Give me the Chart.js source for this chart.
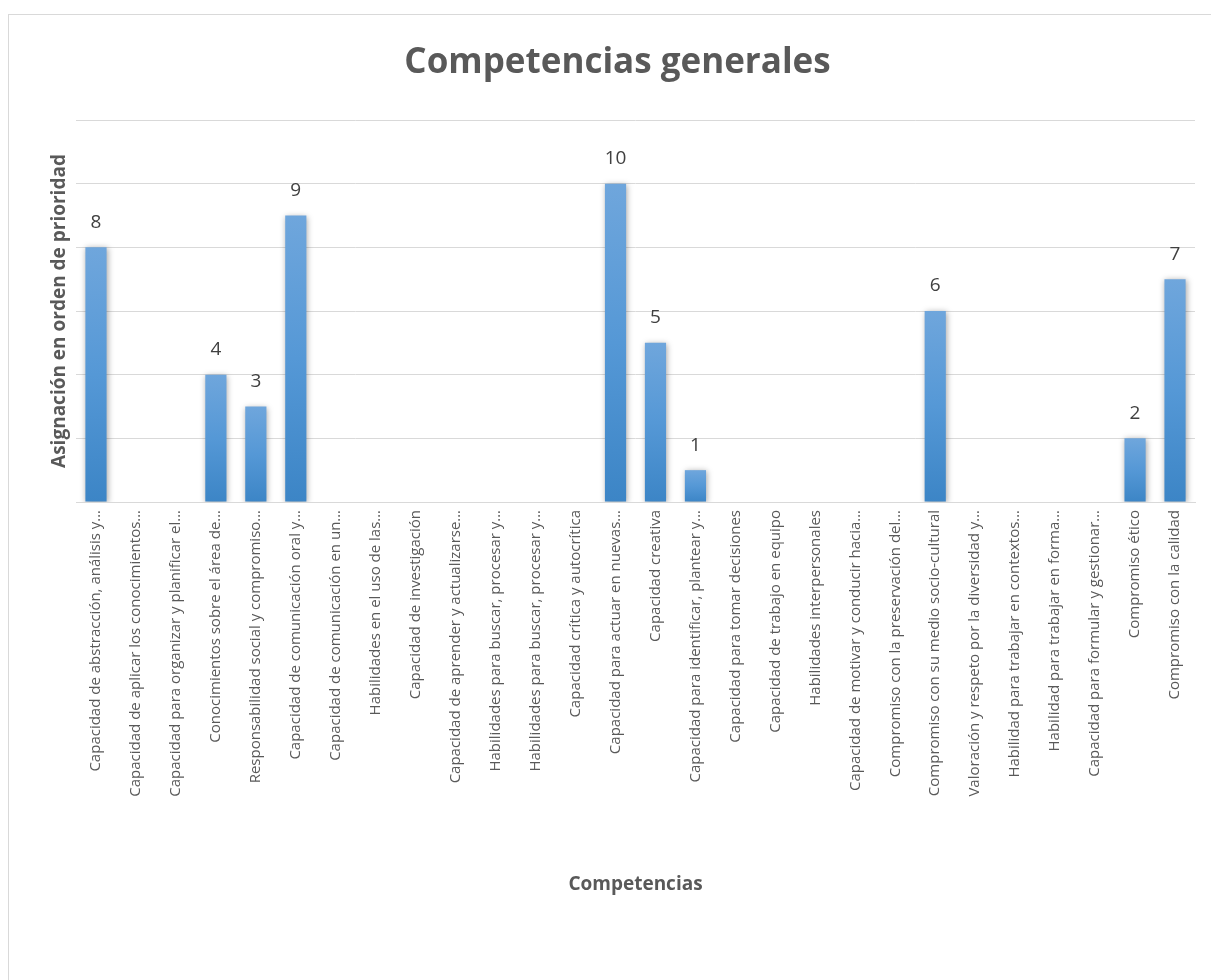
<!DOCTYPE html>
<html>
<head>
<meta charset="utf-8">
<title>Competencias generales</title>
<script src="https://cdn.jsdelivr.net/npm/chart.js@4.4.1/dist/chart.umd.min.js"></script>
<style>
    html, body { margin: 0; padding: 0; background: #ffffff; overflow: hidden; }
    #frame {
        position: absolute; left: 8px; top: 14px;
        width: 1300px; height: 1100px;
        border: 1px solid #d9d9d9;
    }
    #chart-container { position: absolute; left: 0; top: 0; width: 1211px; height: 980px; }
</style>
</head>
<body>
<div id="frame"></div>
<div id="chart-container"><canvas id="chart"></canvas></div>
<script>
// Category labels as they appear (truncated) on the axis
const competencias = [
    'Capacidad de abstracción, análisis y…',
    'Capacidad de aplicar los conocimientos…',
    'Capacidad para organizar y planificar el…',
    'Conocimientos sobre el área de…',
    'Responsabilidad social y compromiso…',
    'Capacidad de comunicación oral y…',
    'Capacidad de comunicación en un…',
    'Habilidades en el uso de las…',
    'Capacidad de investigación',
    'Capacidad de aprender y actualizarse…',
    'Habilidades para buscar, procesar y…',
    'Habilidades para buscar, procesar y…',
    'Capacidad crítica y autocrítica',
    'Capacidad para actuar en nuevas…',
    'Capacidad creativa',
    'Capacidad para identificar, plantear y…',
    'Capacidad para tomar decisiones',
    'Capacidad de trabajo en equipo',
    'Habilidades interpersonales',
    'Capacidad de motivar y conducir hacia…',
    'Compromiso con la preservación del…',
    'Compromiso con su medio socio-cultural',
    'Valoración y respeto por la diversidad y…',
    'Habilidad para trabajar en contextos…',
    'Habilidad para trabajar en forma…',
    'Capacidad para formular y gestionar…',
    'Compromiso ético',
    'Compromiso con la calidad'
];

// Priority assigned to each competence (blank = not ranked)
const prioridad = [8, null, null, 4, 3, 9, null, null, null, null, null, null, null,
    10, 5, 1, null, null, null, null, null, 6, null, null, null, null, 2, 7];

const yMax = 12;
const yStep = 2;

const textColor = '#595959';
const gridColor = '#d9d9d9';

Chart.defaults.font.family = '"Open Sans", sans-serif';

// Soft shadow behind bars + value labels above them
const barExtras = {
    id: 'barExtras',
    beforeDatasetsDraw(chart) {
        const ctx = chart.ctx;
        ctx.save();
        ctx.shadowColor = 'rgba(0, 0, 0, 0.35)';
        ctx.shadowBlur = 6;
        ctx.shadowOffsetX = 1;
        ctx.shadowOffsetY = 1;
    },
    afterDatasetsDraw(chart) {
        const ctx = chart.ctx;
        ctx.restore();
        const meta = chart.getDatasetMeta(0);
        ctx.save();
        ctx.font = '19px "Open Sans", sans-serif';
        ctx.fillStyle = '#404040';
        ctx.textAlign = 'center';
        ctx.textBaseline = 'middle';
        meta.data.forEach((bar, i) => {
            const v = prioridad[i];
            if (v === null || v === undefined) return;
            ctx.fillText(String(v), bar.x, bar.y - 25);
        });
        ctx.restore();
    }
};

function barGradient(context) {
    const chart = context.chart;
    const v = prioridad[context.dataIndex];
    const y = chart.scales.y;
    if (!y || v === null || v === undefined) return '#5b9bd5';
    const top = y.getPixelForValue(v);
    const bottom = y.getPixelForValue(0);
    if (!isFinite(top) || !isFinite(bottom) || top === bottom) return '#5b9bd5';
    const g = chart.ctx.createLinearGradient(0, top, 0, bottom);
    g.addColorStop(0, '#6fa6dc');
    g.addColorStop(0.5, '#5598d6');
    g.addColorStop(1, '#3c85c6');
    return g;
}

const ctx = document.getElementById('chart').getContext('2d');
new Chart(ctx, {
    type: 'bar',
    data: {
        labels: competencias,
        datasets: [{
            label: 'Asignación en orden de prioridad',
            data: prioridad,
            backgroundColor: barGradient,
            borderWidth: 0,
            barPercentage: 0.53,
            categoryPercentage: 1.0
        }]
    },
    options: {
        responsive: true,
        maintainAspectRatio: false,
        animation: false,
        layout: {
            padding: { left: 40, right: 16, top: 0, bottom: 84 }
        },
        plugins: {
            legend: { display: false },
            tooltip: { enabled: false },
            title: {
                display: true,
                text: 'Competencias generales',
                color: textColor,
                font: { size: 35, weight: 'bold' },
                padding: { top: 42, bottom: 36 }
            }
        },
        scales: {
            x: {
                grid: { display: false, drawTicks: false, tickLength: 0 },
                border: { display: true, color: gridColor, width: 1 },
                ticks: {
                    color: textColor,
                    font: { size: 15 },
                    minRotation: 90,
                    maxRotation: 90,
                    autoSkip: false,
                    padding: 8
                },
                title: {
                    display: true,
                    text: 'Competencias',
                    color: textColor,
                    font: { size: 19, weight: 'bold' },
                    padding: { top: 0, bottom: 0 }
                },
                afterFit(scale) { scale.height = 394; }
            },
            y: {
                min: 0,
                max: yMax,
                grid: { color: gridColor, lineWidth: 1, drawTicks: false, tickLength: 0 },
                border: { display: false },
                ticks: { display: false, stepSize: yStep },
                title: {
                    display: true,
                    text: 'Asignación en orden de prioridad',
                    color: textColor,
                    font: { size: 19, weight: 'bold' },
                    padding: { top: 8, bottom: 0 }
                },
                afterFit(scale) { scale.width = 36; }
            }
        }
    },
    plugins: [barExtras]
});
</script>
</body>
</html>
